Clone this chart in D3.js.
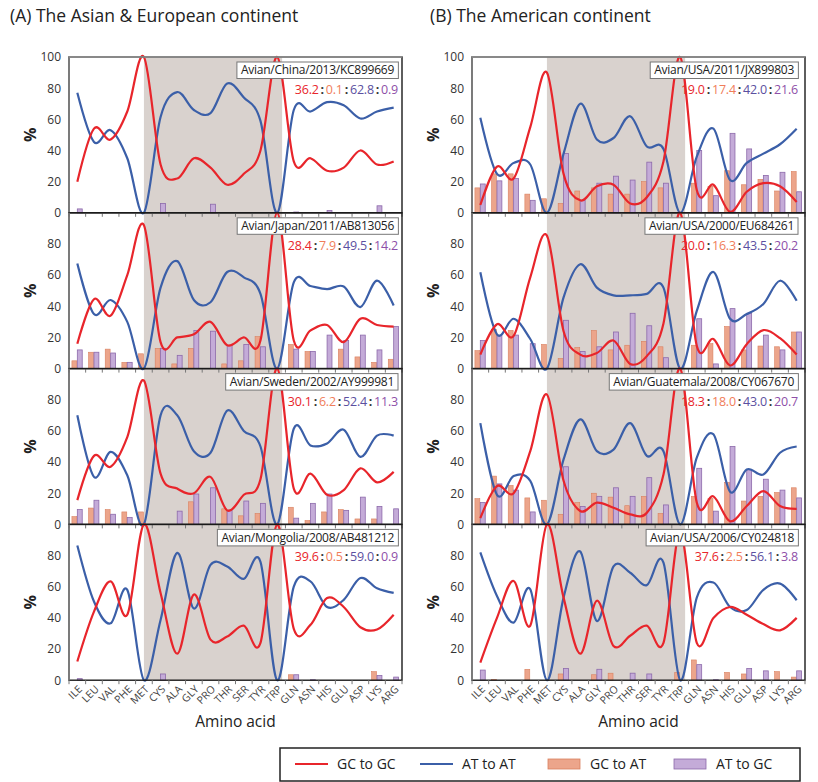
<!DOCTYPE html>
<html><head><meta charset="utf-8">
<script src="https://cdn.jsdelivr.net/npm/d3@7"></script>
<style>body{margin:0;background:#fff} svg{display:block} text{font-family:"Open Sans",sans-serif}</style>
</head><body><svg id="c" width="818" height="782"></svg>
<script>
const aminoAcids = ["ILE","LEU","VAL","PHE","MET","CYS","ALA","GLY","PRO","THR","SER","TYR","TRP","GLN","ASN","HIS","GLU","ASP","LYS","ARG"];
const titles = ["(A) The Asian & European continent","(B) The American continent"];
const namesA = ["Avian/China/2013/KC899669","Avian/Japan/2011/AB813056","Avian/Sweden/2002/AY999981","Avian/Mongolia/2008/AB481212"];
const namesB = ["Avian/USA/2011/JX899803","Avian/USA/2000/EU684261","Avian/Guatemala/2008/CY067670","Avian/USA/2006/CY024818"];
const ratiosA = [["36.2","0.1","62.8","0.9"],["28.4","7.9","49.5","14.2"],["30.1","6.2","52.4","11.3"],["39.6","0.5","59.0","0.9"]];
const ratiosB = [["19.0","17.4","42.0","21.6"],["20.0","16.3","43.5","20.2"],["18.3","18.0","43.0","20.7"],["37.6","2.5","56.1","3.8"]];
const legendLabels = ["GC to GC","AT to AT","GC to AT","AT to GC"];

// A1 China
const gcgcA1 = [20,54,47,65,100,31,22,35,29,18,25,40,100,33,35,27,29,40,31,33];
const atatA1 = [77,45.5,53,35,0,61.5,77.5,66,64,83,74,59,0,66,65,71,69,60.5,65,67.5];
const gcatA1 = [0,0,0,0,0,0,0,0,0,0,0,0,0,0,0,0,0,0,0,0];
const atgcA1 = [2.5,0,0,0,0,6,0,0,5.5,0,0,0,0,0.5,0,1.5,0,0,4.5,0];
// A2 Japan
const gcgcA2 = [16,44.5,34,60,92,17,20,22,30,15,20,18,100,18,24.5,28,17,32,28,27];
const atatA2 = [67.5,35,44,30,0,52,69,44,42.6,62,58.6,48,0,55.4,53,51,52.7,39.5,56.5,40.5];
const gcatA2 = [5,10.5,12.5,4,9.5,13,3,13,0,3,5,20.5,0,15.5,11,0,12.5,7.5,4,6];
const atgcA2 = [12,10.5,10,4,0,13,8.5,24.5,24,15,15.5,14,0,12.5,11,21.5,18,21.5,12,27];
// A3 Sweden
const gcgcA3 = [15.6,44,37,56,92.3,32.6,23,20,30.5,9,19,29,100,23,32.6,19,22,36,27,33.7];
const atatA3 = [70,30.5,46.5,31.5,0,70,70,47,46,73,60,50,0,61.4,50.7,52,60.8,43.3,57,57];
const gcatA3 = [5,10.5,9.5,8,8,0,0,14.5,0,10,5.5,7,0,11,2.5,8,9.5,3.5,3.5,0];
const atgcA3 = [9.5,15.5,6.5,4.5,0,0,8.5,19.5,23.5,9,15,13.5,0,4,13.5,19.5,9,17.5,11.5,10];
// A4 Mongolia
const gcgcA4 = [12,44,63.4,42,100,56,17,55,26,28,35,24,100,33,35.5,52.7,47,34,32.5,42];
const atatA4 = [86.5,50.5,36.5,58,0,38.7,81.7,46,74,73,65,76,0,60,63.4,47,51.6,65.6,59,56];
const gcatA4 = [0,0,0,0,0,0,0,0,0,0,0,0,0,3.5,0,0,0,0,5.5,0];
const atgcA4 = [1,0,0,0,0,4,0,0,0,0,0,0,0,3.5,0.3,0,0,0,3,2];
// B1 USA 2011
const gcgcB1 = [5,29.6,22,55,90,25,8,17,18,6,10,33,100,14.6,18,0.6,13.5,19,17,7];
const atatB1 = [61,25,32,31,0,38,70,47,48,62,42.5,41,0,36,54,21,32,38,44,54];
const gcatB1 = [16,25,25,12,9,6,14,16,12,12,20,16,0,19,17,27,18,21.5,14,26.5];
const atgcB1 = [18.5,20.5,22,8,0,38,8,19,23.5,21,32.5,19,0,40,11,51,41,24,26,13.5];
// B2 USA 2000
const gcgcB2 = [9,28.5,21,58.6,85.4,24,9,10,18,3,8,29,100,14.6,19,2,15.7,24.7,19.5,9];
const atatB2 = [61.8,22,32,19,0,45.7,67,52,47,47,48,52,0,37,62,32,35,41.5,56.4,43.5];
const gcatB2 = [11.5,25,24.5,0,15.5,6.5,13.5,24.5,12,15,17.5,14,0,15,16,27,12,14.5,14,23.5];
const atgcB2 = [18,21.5,21.5,16,0,31,11,14,23.5,35.5,27.5,7,0,32,3,38.5,35.5,21.5,12,23.5];
// B3 Guatemala
const gcgcB3 = [4,24.6,20,47,83.4,28,8.6,14,10.7,6.4,7.5,32,100,14,18,2,11.8,21.4,11.8,10];
const atatB3 = [65,19,31,28,0,41.7,67.4,47,48,65,44,47,0,42.8,57.8,21,35.3,32,46,50];
const gcatB3 = [16.5,31,25,17,15.5,6.5,14,20,17.5,12,18,7,0,18,16.5,27,15,18,20.5,23.5];
const atgcB3 = [14,26,22,8,0,37,11.5,18,23.5,18,30,12.5,0,36,8.5,50,35,29,22,17];
// B4 USA 2006
const gcgcB4 = [11.3,40,63.7,35,100,53,17,51,22,28.5,35,24,95,24,40,47,42,36,32,40];
const atatB4 = [82,54,37,58.4,0,53,82.6,38,73,69,61,75.5,0,53,62.7,47,45,58,62,51.3];
const gcatB4 = [0,0.5,0,7,0,4,0,3.5,4.5,0,0,0,5,13,0,5,4,0,5.5,2];
const atgcB4 = [6.5,0,0,0,0,7.5,0,7,0,4.5,4,0,0,10,0.3,0,7.5,6,0,6];

const RED="#e8252b", BLUE="#3b5fa8", ORANGE_F="#eca58b", ORANGE_S="#d9805f", PURPLE_F="#c4abd8", PURPLE_S="#8d6aab", SHADE="#d9d2ce";
const ratioColors = [RED,"#f07d5a","#5b4fa0","#8e4fa8"];

const svg = d3.select("#c");
const panelTop = 57, panelH = 155.8;

const columns = [
  {x0:69, x1:402, tx:10, ylx:30, names:namesA, ratios:ratiosA,
   panels:[[gcgcA1,atatA1,gcatA1,atgcA1],[gcgcA2,atatA2,gcatA2,atgcA2],[gcgcA3,atatA3,gcatA3,atgcA3],[gcgcA4,atatA4,gcatA4,atgcA4]]},
  {x0:472, x1:805, tx:430, ylx:433, names:namesB, ratios:ratiosB,
   panels:[[gcgcB1,atatB1,gcatB1,atgcB1],[gcgcB2,atatB2,gcatB2,atgcB2],[gcgcB3,atatB3,gcatB3,atgcB3],[gcgcB4,atatB4,gcatB4,atgcB4]]}
];

columns.forEach((col, ci) => {
  const g = svg.append("g");
  const x = d3.scaleBand().domain(aminoAcids).range([col.x0, col.x1]);
  const bw = x.bandwidth();
  const cx = d => x(d) + bw/2;
  const sub = d3.scaleBand().domain(["gcat","atgc"]).range([-5.4, 5.4]);

  g.append("text").attr("x", col.tx).attr("y", 22).attr("font-size", 17.5).attr("fill","#222").text(titles[ci]);

  // shade
  g.append("rect").attr("x", cx("MET")).attr("y", panelTop)
    .attr("width", cx("TRP") - cx("MET") + 5).attr("height", panelH*4).attr("fill", SHADE);

  col.panels.forEach((series, pi) => {
    const top = panelTop + pi*panelH, bot = top + panelH;
    const y = d3.scaleLinear().domain([0,100]).range([bot, top]);
    const pg = g.append("g");
    const [gcgc, atat, gcat, atgc] = series;

    // bars
    pg.selectAll(".bo").data(aminoAcids).join("rect")
      .attr("x", d => cx(d) + sub("gcat")).attr("width", sub.bandwidth()-0.5)
      .attr("y", (d,i) => y(gcat[i])).attr("height", (d,i) => y(0) - y(gcat[i]))
      .attr("fill", ORANGE_F).attr("stroke", ORANGE_S).attr("stroke-width", 0.6)
      .attr("display", (d,i) => gcat[i] > 0 ? null : "none");
    pg.selectAll(".bp").data(aminoAcids).join("rect")
      .attr("x", d => cx(d) + sub("atgc")).attr("width", sub.bandwidth()-0.5)
      .attr("y", (d,i) => y(atgc[i])).attr("height", (d,i) => y(0) - y(atgc[i]))
      .attr("fill", PURPLE_F).attr("stroke", PURPLE_S).attr("stroke-width", 0.8)
      .attr("display", (d,i) => atgc[i] > 0 ? null : "none");

    const line = d3.line().x((v,i) => cx(aminoAcids[i])).y(v => y(v)).curve(d3.curveCatmullRom.alpha(0));
    pg.append("path").attr("d", line(atat)).attr("fill","none").attr("stroke", BLUE).attr("stroke-width", 2.2);
    pg.append("path").attr("d", line(gcgc)).attr("fill","none").attr("stroke", RED).attr("stroke-width", 2.2);

    // frame
    pg.append("rect").attr("x", col.x0).attr("y", top).attr("width", col.x1-col.x0).attr("height", panelH)
      .attr("fill","none").attr("stroke","#1a1a1a").attr("stroke-width",1.4);
    if (pi === 0) pg.append("line").attr("x1", col.x0).attr("x2", col.x1).attr("y1", top).attr("y2", top).attr("stroke","#999").attr("stroke-width",1.4);
    pg.append("line").attr("x1", col.x0).attr("x2", col.x0).attr("y1", top).attr("y2", bot).attr("stroke","#888").attr("stroke-width",1.4);

    // x ticks
    const bounds = aminoAcids.map(d => x(d)).concat([col.x1]);
    pg.selectAll(".xt").data(bounds).join("line")
      .attr("x1", d => d).attr("x2", d => d).attr("y1", bot).attr("y2", bot+4)
      .attr("stroke","#777").attr("stroke-width",1);

    // y axis
    const yAxis = d3.axisLeft(y).tickValues(pi === 0 ? [0,20,40,60,80,100] : [0,20,40,60,80]).tickSize(0).tickPadding(8);
    const ya = pg.append("g").attr("transform", `translate(${col.x0},0)`).call(yAxis);
    ya.select(".domain").remove();
    ya.attr("font-size", null).attr("font-family", null);
    ya.selectAll("text").attr("font-size", 12).attr("fill","#333");

    pg.append("text").attr("transform", `translate(${col.ylx},${(top+bot)/2}) rotate(-90)`)
      .attr("text-anchor","middle").attr("dy","0.35em").attr("font-size",16).attr("font-weight","bold").attr("fill","#222").text("%");

    // name box
    const rx = col.x1 - (ci === 0 ? 4 : 7);
    const box = pg.append("rect");
    const nt = pg.append("text").attr("x", rx - 4).attr("y", top + 5 + 12.3).attr("text-anchor","end")
      .attr("font-size", 12).attr("letter-spacing", -0.25).attr("fill","#222").text(col.names[pi]);
    const bb = nt.node().getBBox();
    box.attr("x", bb.x - 4).attr("y", top + 5).attr("width", bb.width + 8).attr("height", 16.5)
      .attr("fill","#fff").attr("stroke","#777").attr("stroke-width",1);

    const rt = pg.append("text").attr("x", rx).attr("y", top + 37).attr("text-anchor","end")
      .attr("font-size", 12.5).attr("letter-spacing", -0.2);
    col.ratios[pi].forEach((v, k) => {
      if (k > 0) rt.append("tspan").attr("fill","#333").attr("font-weight","bold").text("\u2009:\u2009");
      rt.append("tspan").attr("fill", ratioColors[k]).text(v);
    });
  });

  const bottom = panelTop + 4*panelH;
  g.selectAll(".xl").data(aminoAcids).join("text")
    .attr("transform", d => `translate(${cx(d)+3},${bottom+7}) rotate(-45)`)
    .attr("text-anchor","end").attr("dy","0.35em").attr("font-size",10.5).attr("fill","#444").text(d => d);
  g.append("text").attr("x", (col.x0+col.x1)/2).attr("y", 727).attr("text-anchor","middle")
    .attr("font-size",15.5).attr("fill","#222").text("Amino acid");
});

// legend
const lg = svg.append("g");
lg.append("rect").attr("x",280).attr("y",748).attr("width",520).attr("height",33).attr("fill","#fff").attr("stroke","#222").attr("stroke-width",1.5);
const lx = [295, 420, 548, 674];
legendLabels.forEach((lab, i) => {
  if (i < 2) {
    lg.append("line").attr("x1", lx[i]).attr("x2", lx[i]+33).attr("y1",764).attr("y2",764).attr("stroke", i===0?RED:BLUE).attr("stroke-width",2.2);
  } else {
    lg.append("rect").attr("x", lx[i]).attr("y",759).attr("width",32).attr("height",10)
      .attr("fill", i===2?ORANGE_F:PURPLE_F).attr("stroke", i===2?ORANGE_S:PURPLE_S).attr("stroke-width",0.8);
  }
  lg.append("text").attr("x", lx[i]+42).attr("y",764).attr("dy","0.35em").attr("font-size",14).attr("fill","#222").text(lab);
});
</script></body></html>
